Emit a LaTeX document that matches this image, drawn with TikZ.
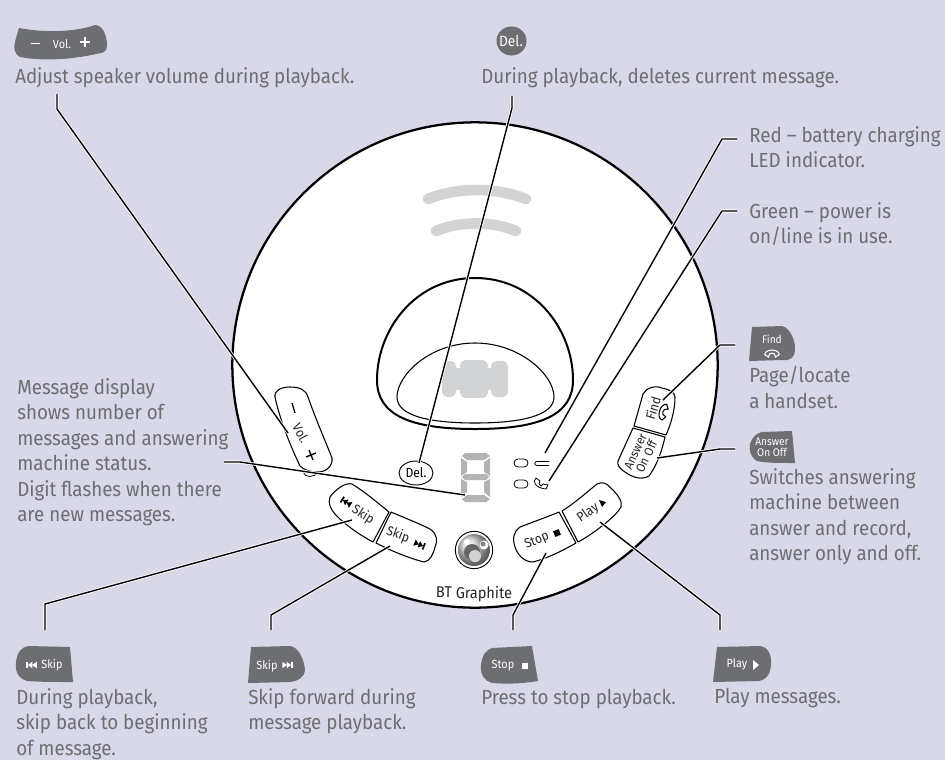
\documentclass[tikz,border=0pt]{standalone}
\usepackage{fontspec}
\usetikzlibrary{shapes.geometric}
\setmainfont{Fira Sans}[FakeStretch=0.92]
\definecolor{bgc}{HTML}{D8D8E8}
\definecolor{txtc}{HTML}{6D6E71}
\definecolor{lgc}{HTML}{D1D3D4}
\tikzset{
  x=0.75pt,y=-0.75pt,
  lab/.style={anchor=north west,inner sep=0pt,align=left,text=txtc,font=\fontsize{15.3}{19.1}\selectfont},
  badge/.style={fill=txtc,draw=none},
  btxt/.style={inner sep=0pt,text=white,font=\fontsize{8.9}{9}\selectfont,align=center},
  ktxt/.style={inner sep=0pt,text=black!85,font=\fontsize{9.9}{9.6}\selectfont,align=center},
  btn/.style={fill=white,draw=black,line width=0.8pt,line join=round},
  halo/.style={draw=white,line width=2.3pt,line join=round,xshift=-0.6pt,yshift=-0.4pt},
  wire/.style={draw=black,line width=1.05pt,line join=round},
  seg/.style={fill=lgc!85!black,draw=none},
  skipb/.pic={\fill[pic actions] (0,0)--(3.5,-2.6)--(3.5,2.6)--cycle (3.5,0)--(7,-2.6)--(7,2.6)--cycle;
              \fill[pic actions] (-1.3,-2.6) rectangle (0,2.6);},
  skipf/.pic={\fill[pic actions] (0,0)--(-3.5,-2.6)--(-3.5,2.6)--cycle (-3.5,0)--(-7,-2.6)--(-7,2.6)--cycle;
              \fill[pic actions] (0,-2.6) rectangle (1.3,2.6);},
  phone/.pic={\draw[pic actions,line width=0.8pt,line cap=round,fill=none] (-6,-2) .. controls (-6,-7) and (6,-7) .. (6,-2) -- (3,0) -- (2,-2.5) .. controls (1,-3.5) and (-1,-3.5) .. (-2,-2.5) -- (-3,0) -- cycle;},
}
\newcommand\conn[1]{\draw[halo] #1; \draw[wire] #1;}
\begin{document}
\begin{tikzpicture}
\useasboundingbox (0,0) rectangle (945,760);
\fill[bgc] (0,0) rectangle (945,760);
% body
\node[circle,fill=white,draw=black,line width=1.7pt,minimum size=364pt,inner sep=0pt] (body) at (475,365) {};
% grey arcs
\draw[lgc,line width=8pt,line cap=round] (428,199) .. controls (458,187) and (495,187) .. (526,199);
\draw[lgc,line width=8pt,line cap=round] (436,231) .. controls (460,221) and (492,221) .. (516,231);
% dock
\draw[black,line width=1.5pt,fill=white] (475,278) .. controls (415,278) and (377,330) .. (377,380) .. controls (377,415) and (410,429) .. (475,429) .. controls (540,429) and (573,415) .. (573,380) .. controls (573,330) and (535,278) .. (475,278) -- cycle;
\draw[black,line width=0.8pt] (475,343) .. controls (430,343) and (397,375) .. (397,397) .. controls (397,416) and (430,423) .. (475,423) .. controls (520,423) and (554,416) .. (554,397) .. controls (554,375) and (520,343) .. (475,343) -- cycle;
\fill[lgc,rounded corners=4pt] (442,361) rectangle (456,397);
\fill[lgc,rounded corners=4pt] (460,360) rectangle (488,398);
\fill[lgc,rounded corners=4pt] (491,361) rectangle (508,397);
\fill[lgc] (450,368) rectangle (500,390);
% digit
\fill[seg] (465,453)--(486,453)--(490,456)--(484,460)--(467,460)--(462,456)--cycle;
\fill[seg] (461,458)--(467,462)--(467,472)--(461,476)--cycle;
\fill[seg] (490,458)--(484,462)--(484,472)--(490,476)--cycle;
\fill[seg] (465,474)--(486,474)--(489,477)--(486,480)--(465,480)--(462,477)--cycle;
\fill[seg] (461,479)--(467,482)--(467,492)--(461,497)--cycle;
\fill[seg] (490,479)--(484,482)--(484,492)--(490,497)--cycle;
\fill[seg] (467,495)--(484,495)--(490,499)--(486,502)--(465,502)--(462,499)--cycle;
% LEDs
\draw[black,line width=0.6pt,rounded corners=3pt] (514,459) rectangle (528,467);
\draw[black,line width=0.6pt,rounded corners=3pt] (514,480) rectangle (528,488);
\draw[black,line width=0.6pt] (549,461.5) -- (537,461.5) .. controls (534,461.5) and (534,465.5) .. (537,465.5) -- (549,465.5);
\draw[black,line width=0.6pt] (536,478) .. controls (532,481) and (535,488) .. (546,489) -- (548,485) -- (543,484) -- (541,486) .. controls (539,485) and (538,483) .. (540,481) -- (536,478) -- cycle;
% logo
\node[circle,draw=black,line width=0.7pt,fill=white,minimum size=28pt,inner sep=0pt] (logo) at (474,550) {};
\shade[ball color=gray!35] (474,550) circle (16);
\fill[white] (467,542) circle (3) (484,545) circle (4.5);
\fill[black!60] (472,552) circle (8);
\fill[gray!35] (475,556) circle (6);
\fill[black!50] (483,544) circle (2.5);
% buttons
\draw[btn] (275,397) .. controls (274,390) and (282,387) .. (290,387) .. controls (300,387) and (306,390) .. (308,397) .. controls (316,420) and (325,440) .. (332,458) .. controls (333,466) and (326,472) .. (318,472) .. controls (310,472) and (304,470) .. (300,466) .. controls (290,445) and (280,420) .. (275,397) -- cycle;
\draw[black,line width=0.6pt] (303,472) .. controls (305,478) and (314,478) .. (318,472);
\draw[black,line width=1pt] (292,403) -- (295,413);
\draw[black,line width=1pt] (306,457) -- (316,453) (309,450) -- (313,460);
\node[ktxt,rotate=-62] (kvol) at (301,433) {Vol.};
\draw[btn] (330,497) .. controls (335,490) and (345,482) .. (352,484) .. controls (365,492) and (378,503) .. (389,512) -- (373,542) .. controls (360,535) and (345,525) .. (335,514) .. controls (330,508) and (328,503) .. (330,497) -- cycle;
\draw[btn] (391,512) .. controls (405,518) and (418,523) .. (430,529) .. controls (437,534) and (438,540) .. (435,547) .. controls (433,555) and (430,561) .. (424,562) .. controls (405,557) and (390,550) .. (376,543) -- cycle;
\node[ktxt,rotate=-33] (kskb) at (363,515) {Skip};
\node[ktxt,rotate=-20] (kskf) at (398,535) {Skip};
\pic[black,rotate=-33,scale=1.3] at (343,500) {skipb};
\pic[black,rotate=-22,scale=1.3] at (423,546) {skipf};
\draw[btn] (520,527) .. controls (533,522) and (547,517) .. (559,512) -- (576,543) .. controls (562,551) and (548,558) .. (533,562) .. controls (525,562) and (518,556) .. (515,547) .. controls (512,538) and (514,531) .. (520,527) -- cycle;
\draw[btn] (562,511) .. controls (575,503) and (587,492) .. (597,484) .. controls (603,481) and (607,484) .. (610,487) .. controls (617,494) and (623,501) .. (621,507) .. controls (617,515) and (595,533) .. (578,542) -- cycle;
\node[ktxt,rotate=22] (kstop) at (537,541) {Stop};
\fill[black,rotate around={22:(557,533)}] (554,530) rectangle (560,536);
\node[ktxt,rotate=35] (kplay) at (588,513) {Play};
\fill[black] (599,500) -- (606,502) -- (602,507) -- cycle;
\draw[btn] (643,394) .. controls (646,388) and (655,385) .. (662,388) .. controls (668,389) and (675,392) .. (675,397) .. controls (675,410) and (671,424) .. (666,435) -- (634,426) -- cycle;
\draw[btn] (633,428) -- (665,437) .. controls (661,455) and (655,468) .. (649,476) .. controls (642,480) and (633,478) .. (625,472) .. controls (619,468) and (617,465) .. (618,461) -- cycle;
\node[ktxt,rotate=73] (kfind) at (653,408) {Find};
\pic[black,rotate=73,scale=1.35] at (667,413) {phone};
\node[ktxt,rotate=65,font=\fontsize{9.3}{9.2}\selectfont] (kans) at (641,454) {Answer\\On\hspace{3pt}Off};
\node[inner sep=0pt,text=black!85,font=\fontsize{11.8}{12}\selectfont,rotate=-1] (brand) at (474,594) {BT Graphite};
\node[ellipse,fill=white,draw=black,line width=0.7pt,minimum width=25.5pt,minimum height=18pt,inner sep=0pt] (kdel) at (416,473) {\fontsize{9.9}{10}\selectfont Del.};
% badges
\fill[badge] (19,28) .. controls (45,33) and (75,32) .. (95,25) .. controls (102,25) and (107,34) .. (107,46) .. controls (107,52) and (103,53) .. (96,54) .. controls (70,60) and (40,61) .. (20,57) .. controls (14,54) and (13,48) .. (16,38) -- cycle;
\node[btxt] (bvol) at (62,44) {\fontsize{8.9}{9}\selectfont Vol.};
\draw[white,line width=1pt] (31,43.5) -- (40,43.5) (80,42) -- (90,42) (85,37) -- (85,47);
\fill[badge] (511.5,41) ellipse (15 and 14.5);
\node[btxt,font=\fontsize{11.2}{11}\selectfont] (bdel) at (511,41) {Del.};
\fill[badge] (28,646) -- (70,647) -- (73,682) .. controls (55,682) and (40,682) .. (27,681) .. controls (18,678) and (15,672) .. (16,662) .. controls (17,652) and (22,647) .. (28,646) -- cycle;
\pic[white,scale=1.25] at (28,665) {skipb};
\node[btxt] (bskb) at (52,665) {Skip};
\fill[badge] (251,647) -- (290,646) .. controls (298,647) and (304,658) .. (305,670) .. controls (304,678) and (298,681) .. (290,682) -- (248,683) -- cycle;
\node[btxt] (bskf) at (267,666) {Skip};
\pic[white,scale=1.25] at (291,665) {skipf};
\fill[badge] (492,648) -- (532,646) -- (538,681) .. controls (520,684) and (505,684) .. (492,683) .. controls (485,681) and (480,675) .. (481,665) .. controls (482,655) and (486,650) .. (492,648) -- cycle;
\node[btxt] (bstop) at (503,666) {Stop};
\fill[white] (522,663) rectangle (527.5,669);
\fill[badge] (717,647) -- (760,646) .. controls (768,647) and (772,655) .. (771,665) .. controls (770,676) and (765,681) .. (757,681) -- (713,682) -- cycle;
\node[btxt] (bplay) at (737,664) {Play};
\fill[white] (753,660) -- (759,665) -- (753,670) -- cycle;
\fill[badge] (752,327) -- (782,326) .. controls (790,328) and (795,340) .. (795,348) .. controls (795,358) and (790,361) .. (782,360) -- (749,361) -- cycle;
\node[btxt,font=\fontsize{8.3}{8}\selectfont] (bfind) at (772,339) {Find};
\pic[white,scale=1.2] at (772,357) {phone};
\fill[badge] (762,432) -- (792,431) -- (795,463) .. controls (780,463) and (765,463) .. (757,461) .. controls (750,457) and (749,450) .. (750,444) .. controls (752,437) and (757,433) .. (762,432) -- cycle;
\node[btxt,font=\fontsize{8.3}{8.6}\selectfont] (bans) at (772,447) {Answer\\On\hspace{2pt}Off};
% labels
\node[lab] (tvol) at (15,67) {Adjust speaker volume during playback.};
\node[lab] (tdel) at (481,67) {During playback, deletes current message.};
\node[lab] (tred) at (749,126) {Red – battery charging\\LED indicator.};
\node[lab] (tgreen) at (749,202) {Green – power is\\on/line is in use.};
\node[lab] (tfind) at (749,366) {Page/locate\\a handset.};
\node[lab] (tans) at (749,468) {Switches answering\\machine between\\answer and record,\\answer only and off.};
\node[lab] (tmsg) at (17,378) {Message display\\shows number of\\messages and answering\\machine status.\\Digit flashes when there\\are new messages.};
\node[lab] (tskb) at (16,688) {During playback,\\skip back to beginning\\of message.};
\node[lab] (tskf) at (248,688) {Skip forward during\\message playback.};
\node[lab] (tstop) at (481,689) {Press to stop playback.};
\node[lab] (tplay) at (714,688) {Play messages.};
% connector points
\coordinate (a1) at (57,94); \coordinate (a2) at (57,109); \coordinate (a3) at (288,433);
\coordinate (b1) at (512,96); \coordinate (b2) at (512,108); \coordinate (b3) at (419,463);
\coordinate (c1) at (737,139); \coordinate (c2) at (722,139); \coordinate (c3) at (545,453);
\coordinate (d1) at (737,211); \coordinate (d2) at (722,211); \coordinate (d3) at (549,481);
\coordinate (e1) at (735,345); \coordinate (e2) at (720,345); \coordinate (e3) at (663,400);
\coordinate (f1) at (735,449); \coordinate (f2) at (720,449); \coordinate (f3) at (657,458);
\coordinate (g1) at (720,630); \coordinate (g2) at (720,615); \coordinate (g3) at (600,522);
\coordinate (h1) at (513,630); \coordinate (h2) at (513,615); \coordinate (h3) at (546,553);
\coordinate (i1) at (271,630); \coordinate (i2) at (271,615); \coordinate (i3) at (390,546);
\coordinate (j1) at (45,630); \coordinate (j2) at (45,604); \coordinate (j3) at (352,520);
\coordinate (k1) at (224,462); \coordinate (k2) at (240,462); \coordinate (k3) at (465,495);
\conn{(a1)--(a2)--(a3)}
\conn{(b1)--(b2)--(b3)}
\conn{(c1)--(c2)--(c3)}
\conn{(d1)--(d2)--(d3)}
\conn{(e1)--(e2)--(e3)}
\conn{(f1)--(f2)--(f3)}
\conn{(g1)--(g2)--(g3)}
\conn{(h1)--(h2)--(h3)}
\conn{(i1)--(i2)--(i3)}
\conn{(j1)--(j2)--(j3)}
\conn{(k1)--(k2)--(k3)}
\end{tikzpicture}
\end{document}
